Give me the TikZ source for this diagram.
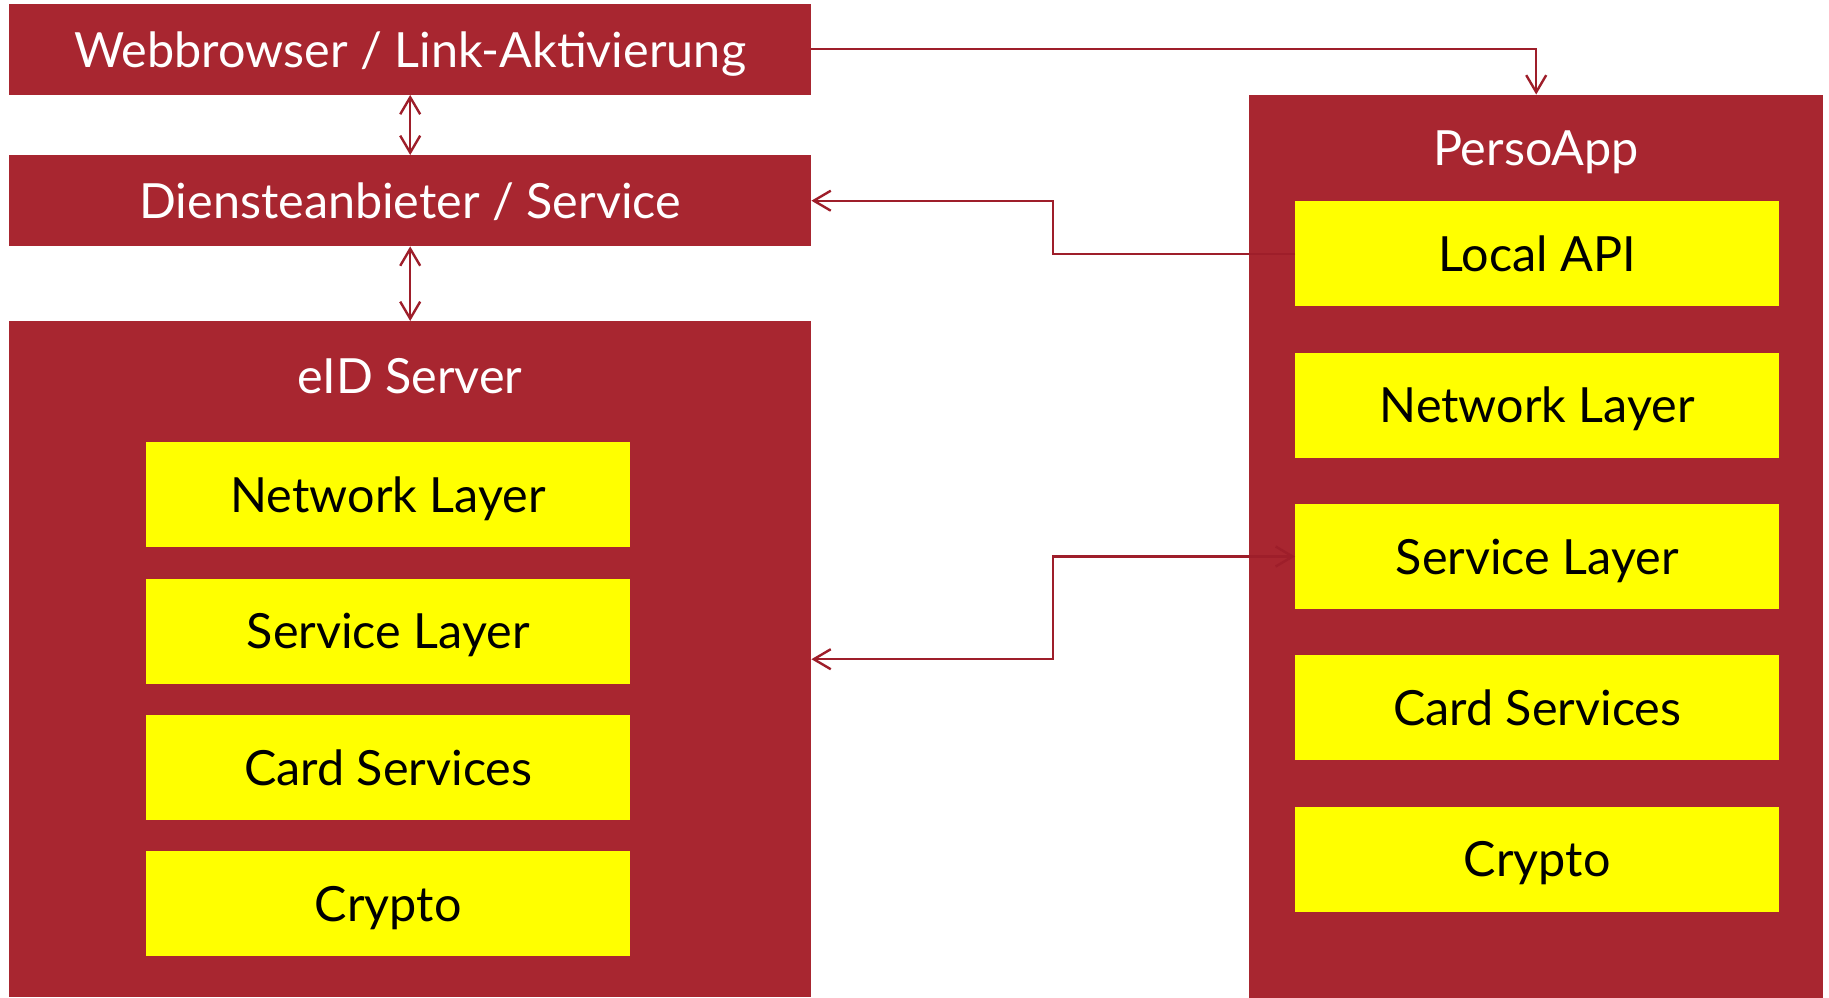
\documentclass[tikz,border=0pt]{standalone}
\usepackage{fontspec}
\setmainfont{Lato}
\usetikzlibrary{arrows.meta,positioning}

\definecolor{darkred}{RGB}{168,38,48}
\definecolor{linered}{RGB}{158,30,42}
\definecolor{layeryellow}{RGB}{255,255,0}

\begin{document}
\begin{tikzpicture}[
  x=1pt,y=-1pt,
  font=\fontsize{48.5}{56}\selectfont,
  bar/.style={rectangle,fill=darkred,text=white,inner sep=0pt,text depth=0pt,anchor=north west},
  title/.style={text=white,text depth=0pt},
  layer/.style={rectangle,fill=layeryellow,text=black,inner sep=0pt,text depth=0pt,
    minimum width=484pt,minimum height=105pt,anchor=north west},
  conn/.style={linered,line width=2.4pt,
    {Straight Barb[length=17pt,width=20pt]}-{Straight Barb[length=17pt,width=20pt]}},
]
\useasboundingbox (0,0) rectangle (1829,997);

% ---------- left column ----------
\node[bar,minimum width=802pt,minimum height=91pt] (web) at (9,3.5) {Webbrowser / Link-Aktivierung};
\node[bar,minimum width=802pt,minimum height=91pt] (dienst) at (9,155) {Diensteanbieter / Service};
\node[bar,minimum width=802pt,minimum height=676pt] (eid) at (9,321) {};
\node[title] (eidtitle) at (410,376) {eID Server};

\node[layer] (enet) at (146,442) {Network Layer};
\node[layer,below=31pt of enet] (esvc) {Service Layer};
\node[layer,below=31pt of esvc] (ecard) {Card Services};
\node[layer,below=31pt of ecard] (ecrypto) {Crypto};

% ---------- right column ----------
\node[bar,minimum width=574pt,minimum height=903pt] (perso) at (1249,94.5) {};
\node[title] (persotitle) at (1536,148) {PersoApp};

\node[layer] (api) at (1295,201) {Local API};
\node[layer,below=46pt of api] (pnet) {Network Layer};
\node[layer,below=46pt of pnet] (psvc) {Service Layer};
\node[layer,below=46pt of psvc] (pcard) {Card Services};
\node[layer,below=46pt of pcard] (pcrypto) {Crypto};

% ---------- connectors ----------
\coordinate (mid) at (1053,0);
\draw[conn] (web.south) -- (dienst.north);
\draw[conn] (dienst.south) -- (eid.north);
\draw[conn,-{Straight Barb[length=17pt,width=20pt]}] (web.east) -| (perso.north);
\draw[conn,-{Straight Barb[length=17pt,width=20pt]}] (api.west) -- (api.west -| mid) |- (dienst.east);
\draw[conn] (psvc.west) -- (psvc.west -| mid) |- (eid.east);

\end{tikzpicture}
\end{document}
